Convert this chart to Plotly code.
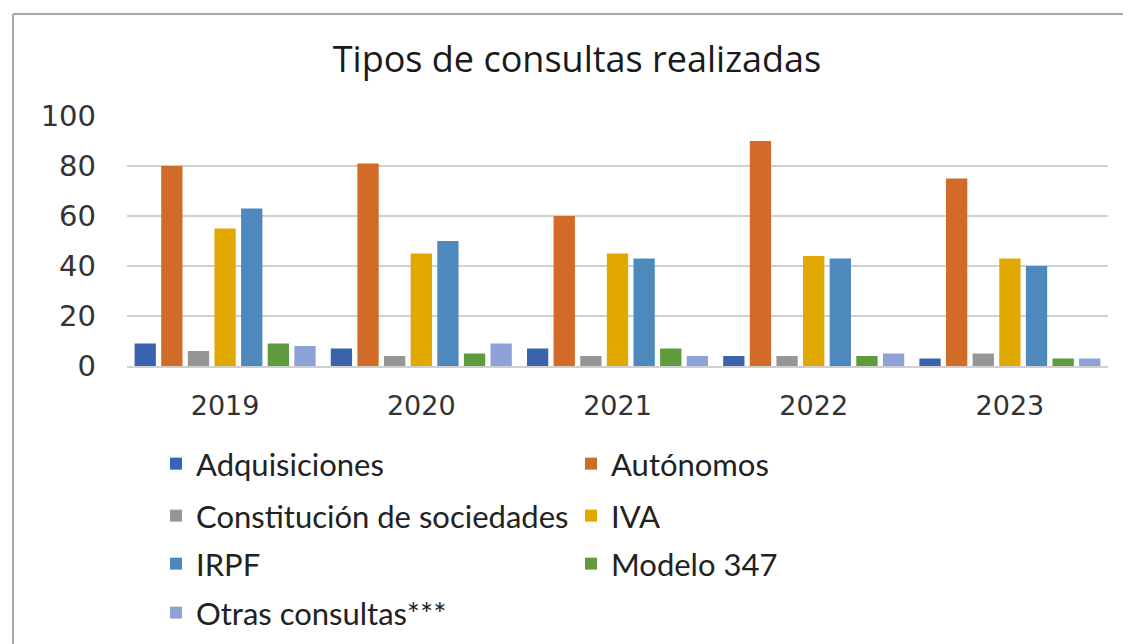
import plotly.graph_objects as go

years = ["2019", "2020", "2021", "2022", "2023"]
adquisiciones = [9, 7, 7, 4, 3]
autonomos = [80, 81, 60, 90, 75]
constitucion = [6, 4, 4, 4, 5]
iva = [55, 45, 45, 44, 43]
irpf = [63, 50, 43, 43, 40]
modelo347 = [9, 5, 7, 4, 3]
otras = [8, 9, 4, 5, 3]

series_names = ["Adquisiciones", "Autónomos", "Constitución de sociedades", "IVA",
                "IRPF", "Modelo 347", "Otras consultas***"]
series_values = [adquisiciones, autonomos, constitucion, iva, irpf, modelo347, otras]
colors = ["#3A63AE", "#D26B28", "#969696", "#E1A800", "#4E89BE", "#5F9A3C", "#8FA2D8"]
legend_ids = ["legend", "legend", "legend2", "legend2", "legend3", "legend3", "legend4"]

# page body has an 8px margin; work in reference-image pixel coordinates
OFF = 8
W, H = 1131 - OFF, 644 - OFF
L, R, T, B = 127 - OFF, 23, 116 - OFF, 278
pw, ph = W - L - R, H - T - B


def px(x):
    return (x - OFF - L) / pw


def py(y):
    return (H - B - (y - OFF)) / ph


fig = go.Figure()
for name, vals, col, lg in zip(series_names, series_values, colors, legend_ids):
    fig.add_trace(go.Bar(x=years, y=vals, name=name, legend=lg,
                         marker=dict(color=col, line=dict(width=0))))

legend_font = dict(family="Lato", size=31, color="#222222")
row_centers = [464, 516, 564, 613]


def legend_cfg(yc):
    return dict(orientation="h", x=px(156), xanchor="left", y=py(yc), yanchor="middle",
                entrywidth=370, entrywidthmode="pixels", font=legend_font,
                bgcolor="rgba(0,0,0,0)", traceorder="normal")


fig.update_layout(
    width=W, height=H,
    margin=dict(l=L, r=R, t=T, b=B, autoexpand=False),
    paper_bgcolor="white", plot_bgcolor="white",
    barmode="group", bargap=0.05, bargroupgap=0.2,
    title=dict(text="Tipos de consultas realizadas", x=(577 - OFF) / W, xanchor="center",
               y=1 - (59 - OFF) / H, yanchor="middle",
               font=dict(family="Open Sans", size=36, color="#1a1a1a")),
    yaxis=dict(range=[0, 100], dtick=20, showgrid=True, gridcolor="#D0D0D0", gridwidth=2,
               tickfont=dict(family="DejaVu Sans", size=29, color="#333333"),
               zeroline=False, showline=False, ticks="", ticklabelstandoff=30),
    xaxis=dict(showgrid=False, showline=True, linecolor="#D0D0D0", linewidth=2,
               tickfont=dict(family="DejaVu Sans", size=27, color="#333333"), ticks="",
               ticklabelstandoff=15),
    legend=legend_cfg(row_centers[0]),
    legend2=legend_cfg(row_centers[1]),
    legend3=legend_cfg(row_centers[2]),
    legend4=legend_cfg(row_centers[3]),
    shapes=[
        dict(type="line", xref="paper", yref="paper", x0=px(13), x1=px(13),
             y0=py(14), y1=py(660), line=dict(color="#A8A8A8", width=2)),
        dict(type="line", xref="paper", yref="paper", x0=px(13), x1=px(1150),
             y0=py(14), y1=py(14), line=dict(color="#A8A8A8", width=2)),
    ],
)

fig.write_html("out.html")
